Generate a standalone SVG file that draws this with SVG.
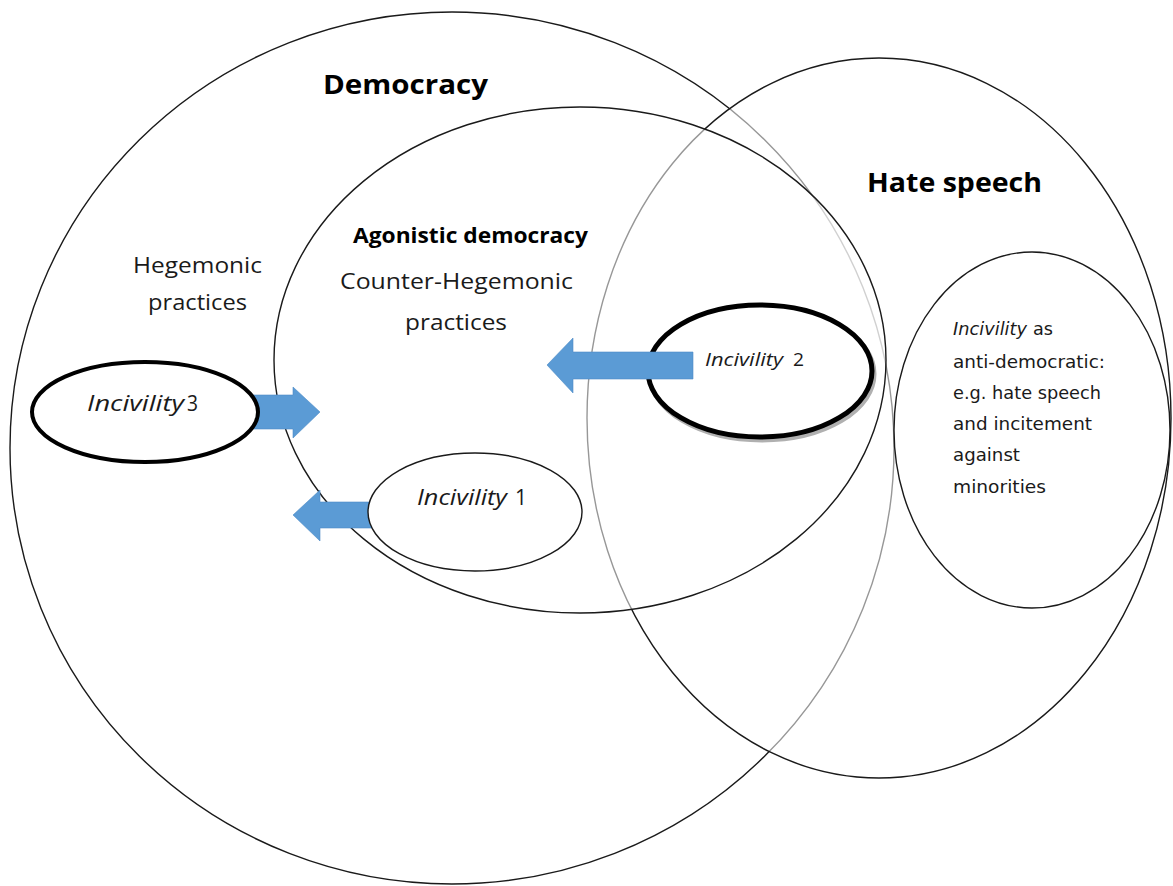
<svg xmlns="http://www.w3.org/2000/svg" width="1173" height="886" viewBox="0 0 1173 886">
  <style>
    .thin { stroke: #1a1a1a; stroke-width: 1.4; }
    .veil { fill: #ffffff; fill-opacity: 0.55; }
    .solid { fill: #ffffff; }
    .thick { fill: #ffffff; stroke: #000000; }
    .arrow { fill: #5B9BD5; stroke: #4f8cc6; stroke-width: 0.6; }
    .lbl { font-family: "Open Sans", "Liberation Sans", sans-serif; fill: #1a1a1a; }
    .bold { font-weight: bold; fill: #000000; }
    .it { font-style: italic; }
    .side { font-family: "DejaVu Sans", "Liberation Sans", sans-serif; font-size: 17px; fill: #1a1a1a; }
  </style>
  <rect x="0" y="0" width="1173" height="886" fill="#ffffff"/>

  <g id="democracy">
    <ellipse cx="452" cy="448" rx="442" ry="436" class="thin solid"/>
    <text x="323" y="94" class="lbl bold" font-size="27" textLength="165" lengthAdjust="spacingAndGlyphs">Democracy</text>
    <text x="133" y="273" class="lbl" font-size="21" textLength="129" lengthAdjust="spacingAndGlyphs">Hegemonic</text>
    <text x="148" y="310" class="lbl" font-size="21" textLength="99" lengthAdjust="spacingAndGlyphs">practices</text>
  </g>

  <g id="hate-speech">
    <ellipse cx="879" cy="418" rx="292" ry="360" class="thin veil"/>
    <text x="867" y="192" class="lbl bold" font-size="27" textLength="175" lengthAdjust="spacingAndGlyphs">Hate speech</text>
  </g>

  <g id="agonistic-democracy">
    <ellipse cx="580" cy="360" rx="306" ry="253" class="thin veil"/>
    <text x="353" y="243" class="lbl bold" font-size="21" textLength="235" lengthAdjust="spacingAndGlyphs">Agonistic democracy</text>
    <text x="340" y="289" class="lbl" font-size="21" textLength="233" lengthAdjust="spacingAndGlyphs">Counter-Hegemonic</text>
    <text x="405" y="330" class="lbl" font-size="21" textLength="102" lengthAdjust="spacingAndGlyphs">practices</text>
  </g>

  <g id="anti-democratic">
    <ellipse cx="1032" cy="430" rx="138" ry="178" class="thin solid"/>
    <text x="953" y="335" class="side it" textLength="74" lengthAdjust="spacingAndGlyphs">Incivility</text>
    <text x="1033" y="335" class="side" textLength="20" lengthAdjust="spacingAndGlyphs">as</text>
    <text x="953" y="368" class="side" textLength="152" lengthAdjust="spacingAndGlyphs">anti-democratic:</text>
    <text x="953" y="399" class="side" textLength="148" lengthAdjust="spacingAndGlyphs">e.g. hate speech</text>
    <text x="953" y="430" class="side" textLength="139" lengthAdjust="spacingAndGlyphs">and incitement</text>
    <text x="953" y="461" class="side" textLength="67" lengthAdjust="spacingAndGlyphs">against</text>
    <text x="953" y="493" class="side" textLength="93" lengthAdjust="spacingAndGlyphs">minorities</text>
  </g>

  <g id="connectors">
    <polygon class="arrow" points="245,395 293,395 293,387 320,412 293,438 293,429 245,429"/>
    <polygon class="arrow" points="375,502 320,502 320,490 293,515 320,541 320,528 375,528"/>
  </g>

  <g id="incivility-3">
    <ellipse cx="145" cy="412" rx="113" ry="50" class="thick" stroke-width="4"/>
    <text x="87" y="411" class="lbl it" font-size="21" textLength="97" lengthAdjust="spacingAndGlyphs">Incivility</text>
    <text x="187" y="411" class="lbl" font-size="21" textLength="11" lengthAdjust="spacingAndGlyphs">3</text>
  </g>

  <g id="incivility-1">
    <ellipse cx="475" cy="512" rx="107" ry="59" class="thin solid"/>
    <text x="417" y="505" class="lbl it" font-size="21" textLength="90" lengthAdjust="spacingAndGlyphs">Incivility</text>
    <text x="515" y="505" class="lbl" font-size="21" textLength="12" lengthAdjust="spacingAndGlyphs">1</text>
  </g>

  <g id="incivility-2">
    <ellipse cx="762" cy="374" rx="112" ry="66" fill="none" stroke="#b0b0b0" stroke-width="5"/>
    <ellipse cx="760" cy="371" rx="112" ry="66" class="thick" stroke-width="5"/>
    <text x="705" y="366" class="lbl it" font-size="18" textLength="78" lengthAdjust="spacingAndGlyphs">Incivility</text>
    <text x="793" y="366" class="lbl" font-size="18" textLength="11" lengthAdjust="spacingAndGlyphs">2</text>
  </g>

  <g id="connectors-top">
    <polygon class="arrow" points="693,352 573,352 573,338 547,365 573,393 573,379 693,379"/>
  </g>
</svg>
